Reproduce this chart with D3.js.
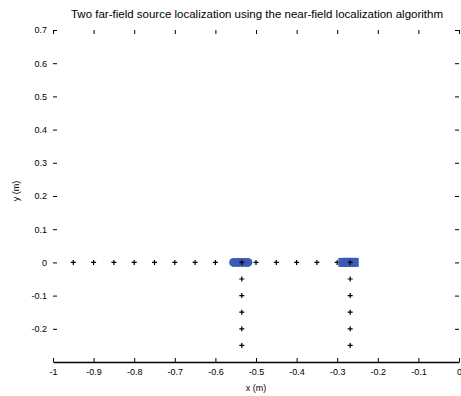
<!DOCTYPE html>
<html>
<head>
<meta charset="utf-8">
<script src="https://d3js.org/d3.v7.min.js"></script>
<style>
	body { margin: 0; background: #fff; }
	text { font-family: "Liberation Sans", Arial, sans-serif; fill: #000; }
</style>
</head>
<body>
<div id="chart"></div>
<script>
	// grid of candidate points along y = 0
	const rowX = [-0.95, -0.9, -0.85, -0.8, -0.75, -0.7, -0.65, -0.6, -0.55, -0.5, -0.45, -0.4, -0.35, -0.3];
	// two vertical columns of points under the sources
	const colPts = [
		[-0.535, 0], [-0.535, -0.05], [-0.535, -0.1], [-0.535, -0.15], [-0.535, -0.2], [-0.535, -0.25],
		[-0.268, 0], [-0.268, -0.05], [-0.268, -0.1], [-0.268, -0.15], [-0.268, -0.2], [-0.268, -0.25]
	];
	// estimated source positions (blue)
	const est1X = [-0.555, -0.548, -0.541, -0.534, -0.527, -0.52];
	const est2X = [-0.286, -0.279, -0.272, -0.265, -0.258];

	const xTicks = [-1, -0.9, -0.8, -0.7, -0.6, -0.5, -0.4, -0.3, -0.2, -0.1, 0];
	const yTicks = [-0.2, -0.1, 0, 0.1, 0.2, 0.3, 0.4, 0.5, 0.6, 0.7];

	const title = "Two far-field source localization using the near-field localization algorithm";

	const W = 461, H = 396;
	const margin = { top: 30, right: 1, bottom: 34, left: 53 };

	const svg = d3.select("#chart").append("svg")
		.attr("width", W)
		.attr("height", H);

	const x = d3.scaleLinear().domain([-1, 0]).range([margin.left, W - margin.right - 1]);
	const y = d3.scaleLinear().domain([-0.3, 0.7]).range([H - margin.bottom, margin.top]);

	// plain hyphen minus like matlab
	const fmt = d => String(+d.toFixed(1));

	// bottom axis, ticks pointing in
	const xAxis = svg.append("g")
		.attr("transform", `translate(0,${y(-0.3)})`)
		.call(d3.axisBottom(x).tickValues(xTicks).tickSizeInner(-4).tickSizeOuter(0).tickPadding(7).tickFormat(fmt));
	xAxis.select(".domain").attr("stroke-width", 1.5);
	xAxis.selectAll("text").attr("font-size", 9);

	// top ticks
	svg.append("g")
		.attr("transform", `translate(0,${y(0.7)})`)
		.call(d3.axisTop(x).tickValues(xTicks).tickSizeInner(-4).tickSizeOuter(0).tickFormat(""))
		.select(".domain").remove();

	// left axis
	const yAxis = svg.append("g")
		.attr("transform", `translate(${margin.left},0)`)
		.call(d3.axisLeft(y).tickValues(yTicks).tickSizeInner(-4).tickSizeOuter(0).tickPadding(6).tickFormat(fmt));
	yAxis.select(".domain").remove();
	yAxis.selectAll("text").attr("font-size", 9);

	// right ticks
	svg.append("g")
		.attr("transform", `translate(${x(0)},0)`)
		.call(d3.axisRight(y).tickValues(yTicks).tickSizeInner(-4).tickSizeOuter(0).tickFormat(""))
		.select(".domain").remove();

	const plus = (g, px, py) => {
		g.append("path")
			.attr("d", `M${px - 2.5},${py}h5M${px},${py - 2.5}v5`)
			.attr("stroke", "#000")
			.attr("stroke-width", 1.2)
			.attr("fill", "none");
	};

	const marks = svg.append("g");
	rowX.forEach(v => plus(marks, x(v), y(0)));

	// blue estimates
	svg.append("g").selectAll("circle")
		.data(est1X)
		.join("circle")
		.attr("cx", d => x(d))
		.attr("cy", y(0))
		.attr("r", 4.5)
		.attr("fill", "#3b5bb5");
	svg.append("g").selectAll("rect")
		.data(est2X)
		.join("rect")
		.attr("x", d => x(d) - 4.5)
		.attr("y", y(0) - 4.5)
		.attr("width", 9)
		.attr("height", 9)
		.attr("fill", "#3b5bb5");

	const marks2 = svg.append("g");
	colPts.forEach(p => plus(marks2, x(p[0]), y(p[1])));

	// title and axis labels
	svg.append("text")
		.attr("x", 257)
		.attr("y", 18)
		.attr("text-anchor", "middle")
		.attr("font-size", 11.5)
		.text(title);

	svg.append("text")
		.attr("x", x(-0.5))
		.attr("y", 391)
		.attr("text-anchor", "middle")
		.attr("font-size", 9)
		.text("x (m)");

	svg.append("text")
		.attr("transform", `translate(19,${y(0.2) - 5}) rotate(-90)`)
		.attr("text-anchor", "middle")
		.attr("font-size", 9)
		.text("y (m)");
</script>
</body>
</html>
